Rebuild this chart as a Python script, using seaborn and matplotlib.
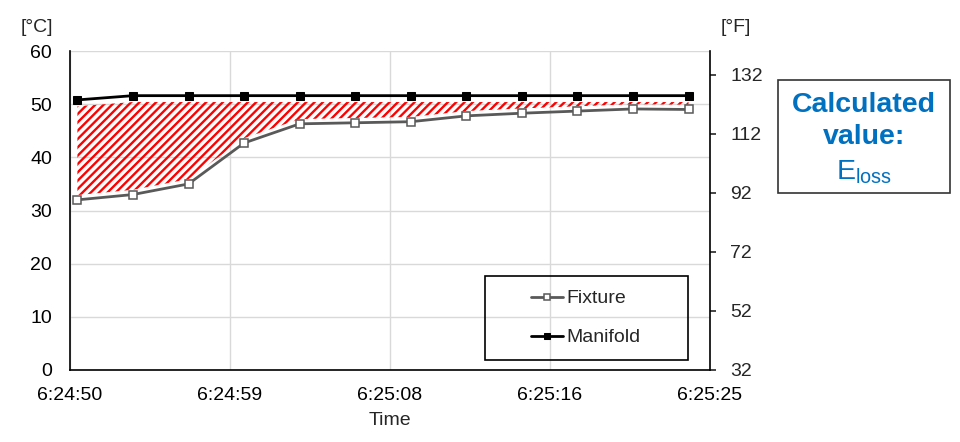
import matplotlib
matplotlib.use("Agg")
import matplotlib.pyplot as plt
import numpy as np
import pandas as pd
import seaborn as sns
from matplotlib.patches import Rectangle

# seconds after 6:24:50
seconds = [0.4, 3.4, 6.4, 9.4, 12.4, 15.4, 18.4, 21.4, 24.4, 27.4, 30.4, 33.4]
fixture = [32.0, 33.0, 35.0, 42.7, 46.3, 46.5, 46.7, 47.8, 48.3, 48.7, 49.1, 49.0]
manifold = [50.8, 51.6, 51.6, 51.6, 51.6, 51.6, 51.6, 51.6, 51.6, 51.6, 51.6, 51.6]
time_labels = ["6:24:50", "6:24:59", "6:25:08", "6:25:16", "6:25:25"]
fahrenheit_ticks = [32, 52, 72, 92, 112, 132]

data = pd.DataFrame({"t": seconds, "Fixture": fixture, "Manifold": manifold})

sns.set_style("white")
plt.rcParams["font.family"] = ["Liberation Sans", "DejaVu Sans"]
plt.rcParams["mathtext.default"] = "regular"
plt.rcParams["hatch.linewidth"] = 1.7

fig = plt.figure(figsize=(9.6, 4.42), dpi=100)
ax = fig.add_axes([70 / 960, 1 - 370 / 442, 640 / 960, 319 / 442])

# hatched gap between the two curves
ax.fill_between(data["t"], data["Fixture"] + 0.9, data["Manifold"] - 1.2,
                facecolor="none", edgecolor="#ff0000", hatch="////", linewidth=0, zorder=1)

sns.lineplot(x="t", y="Fixture", data=data, ax=ax, color="#595959", linewidth=2,
             marker="s", markersize=5.5, markerfacecolor="white", markeredgecolor="#595959",
             markeredgewidth=1.1, label="Fixture", legend=False, zorder=3)
sns.lineplot(x="t", y="Manifold", data=data, ax=ax, color="black", linewidth=2,
             marker="s", markersize=6, markerfacecolor="black", markeredgecolor="black",
             label="Manifold", legend=False, zorder=3)

span = 34.56
ax.set_xlim(0, span)
ax.set_ylim(0, 60)
ax.set_xticks(np.linspace(0, span, len(time_labels)))
ax.set_xticklabels(time_labels)
ax.set_yticks(range(0, 61, 10))
ax.grid(True, color="#d9d9d9", linewidth=1)
ax.set_axisbelow(True)
ax.tick_params(axis="both", length=0, labelsize=14, colors="black")
ax.tick_params(axis="x", pad=12)
ax.tick_params(axis="y", pad=13)
ax.set_xlabel("Time", fontsize=14, labelpad=6)
ax.set_ylabel("")
for side in ["left", "bottom"]:
    ax.spines[side].set_color("black")
    ax.spines[side].set_linewidth(1.2)
ax.spines["top"].set_visible(False)
ax.spines["right"].set_visible(False)

ax2 = ax.twinx()
ax2.set_ylim(32, 140)
ax2.set_yticks(fahrenheit_ticks)
ax2.tick_params(axis="y", direction="out", length=4.5, width=1.2, labelsize=14, pad=10)
ax2.spines["right"].set_color("black")
ax2.spines["right"].set_linewidth(1.2)
for side in ["left", "top", "bottom"]:
    ax2.spines[side].set_visible(False)

fig.text(37 / 960, 1 - 28 / 442, "[°C]", fontsize=14, ha="center", va="center")
fig.text(736 / 960, 1 - 28 / 442, "[°F]", fontsize=14, ha="center", va="center")

# legend with its own square frame
h, l = ax.get_legend_handles_labels()
fig.legend(h, l, loc="center", bbox_to_anchor=(586 / 960, 1 - 318 / 442),
           frameon=False, fontsize=14, handlelength=1.6, handletextpad=0.2,
           labelspacing=1.1, markerscale=0.8)
fig.add_artist(Rectangle((485 / 960, 1 - 360 / 442), 203 / 960, 84 / 442,
                         transform=fig.transFigure, fill=False, edgecolor="black", linewidth=1.2))

# calculated value box
fig.add_artist(Rectangle((778 / 960, 1 - 193 / 442), 172 / 960, 113 / 442,
                         transform=fig.transFigure, facecolor="white", edgecolor="#333333", linewidth=1.2))
fig.text(864 / 960, 1 - 121 / 442, "Calculated\nvalue:", fontsize=20.5, fontweight="bold",
         color="#0070C0", ha="center", va="center", linespacing=1.3)
fig.text(864 / 960, 1 - 172 / 442, r"E$_{loss}$", fontsize=20.5, color="#0070C0",
         ha="center", va="center")

fig.savefig("out.png", dpi=100)
